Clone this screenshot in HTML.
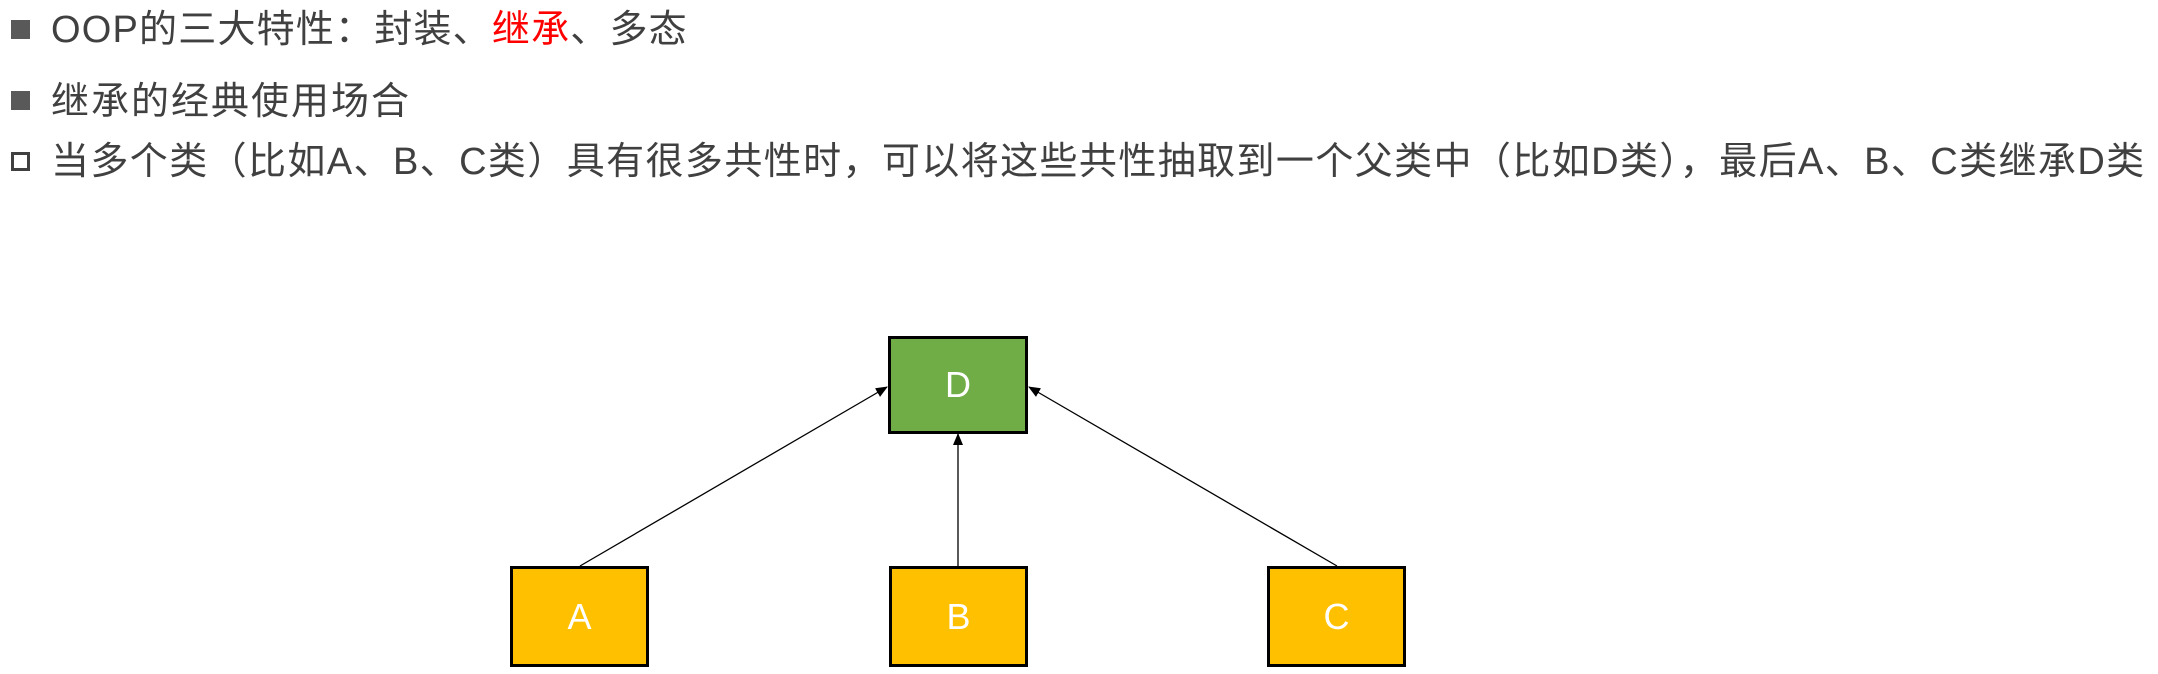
<!DOCTYPE html>
<html><head><meta charset="utf-8"><style>
html,body{margin:0;padding:0;background:#fff;}
body{width:2158px;height:674px;position:relative;overflow:hidden;font-family:"Liberation Sans","Noto Sans CJK SC",sans-serif;color:#404040;}
.l{position:absolute;left:51px;font-size:38px;line-height:40px;white-space:nowrap;}
.b{position:absolute;left:11px;width:19px;height:19px;background:#595959;}
.h{position:absolute;left:11px;width:13px;height:13px;border:3px solid #404040;background:#fff;}
.box{position:absolute;box-sizing:border-box;border:3px solid #000;color:#fff;font-size:36px;display:flex;align-items:center;justify-content:center;}
.y{background:#ffc000;}
</style></head><body>
<div class="b" style="top:20px"></div>
<div class="l" style="top:10px;letter-spacing:1.2px">OOP的三大特性：封装、<span style="color:#ff0000">继承</span>、多态</div>
<div class="b" style="top:91px"></div>
<div class="l" style="top:82px;letter-spacing:2px">继承的经典使用场合</div>
<div class="h" style="top:152px"></div>
<div class="l" style="top:142px;letter-spacing:1.4px">当多个类（比如A、B、C类）具有很多共性时，可以将这些共性抽取到一个父类中（比如D类），最后A、B、C类继承D类</div>
<svg style="position:absolute;left:0;top:0" width="2158" height="674">
<defs><marker id="a" markerWidth="12" markerHeight="12" refX="11" refY="6" orient="auto" markerUnits="userSpaceOnUse"><path d="M0,1 L12,6 L0,11 z" fill="#000"/></marker></defs>
<line x1="580" y1="566" x2="887" y2="387" stroke="#000" stroke-width="1.3" marker-end="url(#a)"/>
<line x1="958" y1="566" x2="958" y2="434" stroke="#000" stroke-width="1.3" marker-end="url(#a)"/>
<line x1="1337" y1="566" x2="1029" y2="387" stroke="#000" stroke-width="1.3" marker-end="url(#a)"/>
</svg>
<div class="box" style="left:888px;top:336px;width:140px;height:98px;background:#70ad47">D</div>
<div class="box y" style="left:510px;top:566px;width:139px;height:101px">A</div>
<div class="box y" style="left:889px;top:566px;width:139px;height:101px">B</div>
<div class="box y" style="left:1267px;top:566px;width:139px;height:101px">C</div>
</body></html>
